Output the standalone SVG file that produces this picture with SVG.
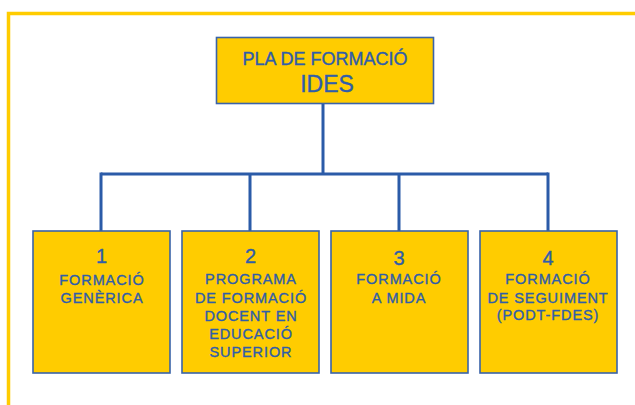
<svg xmlns="http://www.w3.org/2000/svg" width="635" height="405" viewBox="0 0 635 405">
<style>
.box{fill:#FFCC00;stroke:#3A63A8;stroke-width:1.6}
.t{font-family:"Liberation Sans",Arial,sans-serif;fill:#2F5DAA;stroke:#2F5DAA;stroke-width:0.35;text-anchor:middle}
.s{font-size:14.5px;letter-spacing:0.9px}
.n{font-size:20px}
.c{fill:none;stroke:#2B5BA8;stroke-width:3}
</style>
<rect width="635" height="405" fill="#FFFFFF"/>
<path d="M8.5,410 V13.5 H640" fill="none" stroke="#FFCC00" stroke-width="3.5"/>
<g id="connectors">
<path class="c" d="M323,104 V174"/>
<path class="c" d="M101,174 H548"/>
<path class="c" d="M101,172.5 V231 M250,174 V231 M399,174 V231 M548,172.5 V231"/>
</g>
<g id="root">
<rect class="box" x="216.5" y="37.5" width="217" height="66"/>
<text class="t" x="325" y="65" style="font-size:18px">PLA DE FORMACIÓ</text>
<text class="t" x="327" y="91.5" style="font-size:23px">IDES</text>
</g>
<g id="n1">
<rect class="box" x="33" y="231" width="137" height="142"/>
<text class="t n" x="101.5" y="263">1</text>
<text class="t s" x="102" y="285">FORMACIÓ</text>
<text class="t s" x="102" y="302.5">GENÈRICA</text>
</g>
<g id="n2">
<rect class="box" x="182" y="231" width="137" height="142"/>
<text class="t n" x="250.5" y="263">2</text>
<text class="t s" x="251" y="284">PROGRAMA</text>
<text class="t s" x="251" y="302.5">DE FORMACIÓ</text>
<text class="t s" x="251" y="321">DOCENT EN</text>
<text class="t s" x="251" y="339">EDUCACIÓ</text>
<text class="t s" x="251" y="357">SUPERIOR</text>
</g>
<g id="n3">
<rect class="box" x="331" y="231" width="137" height="142"/>
<text class="t n" x="399" y="265">3</text>
<text class="t s" x="399" y="284">FORMACIÓ</text>
<text class="t s" x="399" y="302.5">A MIDA</text>
</g>
<g id="n4">
<rect class="box" x="480" y="231" width="137" height="142"/>
<text class="t n" x="548" y="265">4</text>
<text class="t s" x="548" y="284">FORMACIÓ</text>
<text class="t s" x="548" y="302.5">DE SEGUIMENT</text>
<text class="t s" x="548" y="320">(PODT-FDES)</text>
</g>
</svg>
